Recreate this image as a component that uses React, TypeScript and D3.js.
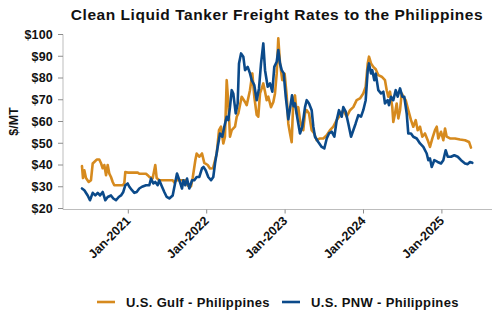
import React from "react";
import * as d3 from "d3";

// Decimal-year dates and $/MT values
const gulfDates = [
  2020.409, 2020.422, 2020.439, 2020.46, 2020.495, 2020.524, 2020.546, 2020.566, 2020.597, 2020.63,
  2020.652, 2020.673, 2020.694, 2020.716, 2020.737, 2020.758, 2020.779, 2020.801, 2020.821, 2020.929,
  2020.949, 2020.962, 2020.992, 2021.12, 2021.14, 2021.226, 2021.247, 2021.268, 2021.311, 2021.344,
  2021.362, 2021.395, 2021.566, 2021.587, 2021.608, 2021.736, 2021.758, 2021.8, 2021.821, 2021.855,
  2021.872, 2021.906, 2021.94, 2021.969, 2022.013, 2022.042, 2022.08, 2022.128, 2022.157, 2022.182,
  2022.212, 2022.233, 2022.255, 2022.276, 2022.297, 2022.319, 2022.361, 2022.383, 2022.403, 2022.446,
  2022.489, 2022.51, 2022.552, 2022.582, 2022.607, 2022.638, 2022.658, 2022.68, 2022.702, 2022.722,
  2022.744, 2022.765, 2022.786, 2022.82, 2022.85, 2022.871, 2022.893, 2022.913, 2022.935, 2022.964,
  2022.994, 2023.02, 2023.041, 2023.063, 2023.084, 2023.105, 2023.126, 2023.148, 2023.168, 2023.19,
  2023.212, 2023.232, 2023.254, 2023.276, 2023.305, 2023.339, 2023.372, 2023.403, 2023.445, 2023.487,
  2023.531, 2023.573, 2023.615, 2023.658, 2023.7, 2023.742, 2023.786, 2023.828, 2023.87, 2023.913,
  2023.955, 2023.997, 2024.028, 2024.054, 2024.07, 2024.096, 2024.125, 2024.156, 2024.189, 2024.232,
  2024.274, 2024.296, 2024.316, 2024.338, 2024.367, 2024.38, 2024.402, 2024.423, 2024.444, 2024.466,
  2024.487, 2024.508, 2024.538, 2024.571, 2024.606, 2024.635, 2024.666, 2024.691, 2024.721, 2024.75,
  2024.784, 2024.819, 2024.848, 2024.878, 2024.912, 2024.934, 2024.954, 2024.989, 2025.018, 2025.04,
  2025.061, 2025.103, 2025.167, 2025.231, 2025.295, 2025.346, 2025.371,
];
const gulfValues = [
  39.5, 34, 37.6, 34, 32.2, 33, 40.7, 41.4, 42.5, 42.5,
  40.8, 38.5, 40, 35.3, 40, 36, 34.5, 32.2, 30.7, 30.7,
  31.6, 36.8, 36.5, 36.5, 36, 36, 35.3, 34.5, 33.9, 40,
  34, 33, 33, 32, 33, 33, 30.5, 30.2, 34, 42.2,
  45.3, 43.8, 45.3, 41, 40, 38.4, 38.5, 45.3, 56, 57.6,
  49.9, 53, 79, 68.3, 53, 56, 57.6, 62.2, 63.7, 71.4,
  69, 67.5, 74.4, 82.1, 71.4, 63, 62.2, 72.9, 75.2, 77.5,
  73.7, 69.8, 71.4, 66.6, 69, 72.9, 82.1, 98.2, 86.7, 79,
  82, 72, 59, 54.5, 50.5, 70, 72, 63.7, 66.6, 60.6,
  57.6, 56, 63.7, 65.2, 63.7, 56, 54.5, 51.4, 52.2, 52.2,
  53.7, 56, 57.6, 60.6, 62.9, 65.2, 62.2, 65.2, 66.6, 69.8,
  70.6, 72.9, 76, 86.7, 89.8, 86.7, 85.1, 84, 81.3, 80.6,
  79, 74.4, 71.4, 73.7, 66.6, 59.8, 63.7, 68.3, 61.4, 65.2,
  72.9, 71.4, 69.8, 65.2, 60.6, 57.6, 60.6, 56, 57.6, 53,
  54.5, 51.4, 48.3, 52.2, 56, 57.6, 52.2, 55.3, 51.4, 56.8,
  53, 52.2, 52.2, 51.7, 51.4, 50.6, 48,
];

const pnwDates = [
  2020.409, 2020.439, 2020.482, 2020.511, 2020.546, 2020.579, 2020.61, 2020.639, 2020.673, 2020.707,
  2020.737, 2020.779, 2020.809, 2020.843, 2020.878, 2020.907, 2020.936, 2020.962, 2020.992, 2021.013,
  2021.047, 2021.077, 2021.107, 2021.14, 2021.175, 2021.226, 2021.268, 2021.29, 2021.319, 2021.344,
  2021.375, 2021.395, 2021.43, 2021.459, 2021.49, 2021.523, 2021.566, 2021.6, 2021.621, 2021.651,
  2021.685, 2021.702, 2021.727, 2021.749, 2021.778, 2021.813, 2021.842, 2021.872, 2021.906, 2021.94,
  2021.959, 2021.987, 2022.02, 2022.055, 2022.084, 2022.106, 2022.14, 2022.17, 2022.199, 2022.224,
  2022.255, 2022.276, 2022.297, 2022.319, 2022.339, 2022.37, 2022.395, 2022.412, 2022.438, 2022.467,
  2022.489, 2022.523, 2022.552, 2022.574, 2022.607, 2022.638, 2022.667, 2022.693, 2022.722, 2022.744,
  2022.778, 2022.807, 2022.837, 2022.862, 2022.893, 2022.913, 2022.935, 2022.957, 2022.982, 2023.008,
  2023.041, 2023.063, 2023.088, 2023.108, 2023.126, 2023.161, 2023.19, 2023.219, 2023.254, 2023.276,
  2023.305, 2023.339, 2023.36, 2023.381, 2023.423, 2023.467, 2023.5, 2023.531, 2023.56, 2023.594,
  2023.628, 2023.658, 2023.687, 2023.722, 2023.742, 2023.773, 2023.806, 2023.841, 2023.87, 2023.9,
  2023.934, 2023.968, 2023.997, 2024.028, 2024.054, 2024.07, 2024.096, 2024.112, 2024.138, 2024.156,
  2024.189, 2024.223, 2024.253, 2024.274, 2024.309, 2024.325, 2024.351, 2024.38, 2024.411, 2024.436,
  2024.466, 2024.495, 2024.52, 2024.551, 2024.571, 2024.606, 2024.635, 2024.679, 2024.721, 2024.763,
  2024.806, 2024.827, 2024.848, 2024.87, 2024.903, 2024.946, 2024.989, 2025.018, 2025.048, 2025.074,
  2025.116, 2025.158, 2025.202, 2025.244, 2025.295, 2025.329, 2025.358, 2025.388,
];
const pnwValues = [
  29.2, 28.4, 26, 23.8, 27.2, 26, 27.2, 26, 27.6, 23.8,
  25.3, 26, 24.6, 23.8, 25.3, 26, 27.6, 30.7, 31.5, 30,
  28.4, 27.2, 27.6, 29.2, 30, 30.7, 30.7, 33.8, 31.5, 32.2,
  30.7, 33, 30, 27.6, 25.3, 24.6, 26, 32.2, 36.1, 33,
  29.2, 33, 30.7, 33.8, 29.2, 33, 33, 34.5, 34.5, 38.5,
  39.1, 37.6, 34.5, 33, 34.5, 40.7, 48.3, 54.5, 53, 57.6,
  62.2, 60.6, 66.6, 74.4, 72.9, 63.7, 68.3, 86.7, 91.3, 89.8,
  83.6, 85.1, 82.1, 79, 76.7, 69.8, 75.2, 86.7, 95.9, 83.6,
  76, 77.5, 73.7, 85.1, 87.5, 92.9, 86.7, 83.6, 82.1, 71.4,
  61, 66, 72, 67, 68.3, 60.6, 54.5, 57.6, 66.6, 69.8,
  68.3, 65.2, 57.6, 53, 50.6, 48.3, 47.6, 52.2, 54.5, 55.3,
  53, 60.6, 65.2, 62.2, 66.6, 64.5, 59.1, 53, 56, 59.1,
  62.9, 62.2, 65.2, 69.8, 83.6, 86.7, 82.1, 83.6, 79, 82,
  74.4, 72.9, 73.7, 68.3, 69.8, 67.5, 71.4, 69.8, 74.4, 71.4,
  75.2, 71.4, 71.4, 63.7, 54.5, 54.5, 53, 52.2, 49.9, 48.3,
  45.3, 42.2, 43, 39.1, 42.2, 41.4, 40.7, 42.2, 46.8, 43.8,
  43.8, 44.5, 43.8, 42.2, 40.7, 40.4, 41.4, 41,
];

const yTicks = [20, 30, 40, 50, 60, 70, 80, 90, 100];
const xTickYears = [2021, 2022, 2023, 2024, 2025];
const seriesNames = ["U.S. Gulf - Philippines", "U.S. PNW - Philippines"];
const seriesColors = ["#D68A1E", "#0B4A8A"];
const titleText = "Clean Liquid Tanker Freight Rates to the Philippines";
const yLabel = "$/MT";

const FONT = "'Liberation Sans', Arial, sans-serif";

export default function App() {
  const W = 500;
  const H = 330;
  const left = 63;
  const right = 492;
  const top = 34.5;
  const bottom = 208.5;

  const x = d3.scaleLinear().domain([2020.167, 2025.639]).range([left, right]);
  const y = d3.scaleLinear().domain([20, 100]).range([bottom, top]);

  const line = d3
    .line<[number, number]>()
    .x((d) => x(d[0]))
    .y((d) => y(d[1]));

  const gulf: [number, number][] = gulfDates.map((d, i) => [d, gulfValues[i]]);
  const pnw: [number, number][] = pnwDates.map((d, i) => [d, pnwValues[i]]);
  const series = [gulf, pnw];

  const axisColor = "#BDBDBD";
  const tickColor = "#8C8C8C";

  return (
    <svg
      width={W}
      height={H}
      viewBox={`0 0 ${W} ${H}`}
      style={{ position: "fixed", left: 0, top: 0, background: "#fff" }}
      fontFamily={FONT}
    >
      <rect x={0} y={0} width={W} height={H} fill="#fff" />
      <text
        x={277}
        y={19.5}
        textAnchor="middle"
        fontSize={15.5}
        fontWeight="bold"
        letterSpacing={0.55}
        fill="#111"
      >
        {titleText}
      </text>

      {/* y axis */}
      <line x1={left} x2={left} y1={top} y2={bottom + 1} stroke={axisColor} strokeWidth={1} />
      {yTicks.map((t) => (
        <g key={t}>
          <line x1={left - 5} x2={left} y1={y(t)} y2={y(t)} stroke={tickColor} strokeWidth={1} />
          <text
            x={left - 10}
            y={y(t)}
            dy="0.35em"
            textAnchor="end"
            fontSize={12.5}
            fontWeight="bold"
            letterSpacing={0.2}
            fill="#111"
          >
            {"$" + t}
          </text>
        </g>
      ))}
      <text
        transform={`translate(18, ${(top + bottom) / 2}) rotate(-90)`}
        textAnchor="middle"
        fontSize={12.5}
        fontWeight="bold"
        fill="#111"
      >
        {yLabel}
      </text>

      {/* x axis */}
      <line x1={left} x2={right} y1={bottom + 1} y2={bottom + 1} stroke={axisColor} strokeWidth={1.2} />
      {xTickYears.map((yr) => (
        <g key={yr}>
          <line x1={x(yr)} x2={x(yr)} y1={bottom + 1} y2={bottom + 5} stroke={tickColor} strokeWidth={1} />
          <text
            transform={`translate(${x(yr) + 3}, ${bottom + 13}) rotate(-45)`}
            textAnchor="end"
            fontSize={12.5}
            fontWeight="bold"
            fill="#111"
          >
            {"Jan-" + yr}
          </text>
        </g>
      ))}

      {/* lines */}
      {series.map((s, i) => (
        <path
          key={i}
          d={line(s) || ""}
          fill="none"
          stroke={seriesColors[i]}
          strokeWidth={2.6}
          strokeLinejoin="round"
          strokeLinecap="round"
        />
      ))}

      {/* legend */}
      {seriesNames.map((n, i) => {
        const lx = i === 0 ? 97 : 282;
        return (
          <g key={n}>
            <line x1={lx} x2={lx + 18} y1={302} y2={302} stroke={seriesColors[i]} strokeWidth={2.6} />
            <text x={lx + 29} y={302.5} dy="0.35em" fontSize={13} fontWeight="bold" fill="#111" letterSpacing={0.35}>
              {n}
            </text>
          </g>
        );
      })}
    </svg>
  );
}
